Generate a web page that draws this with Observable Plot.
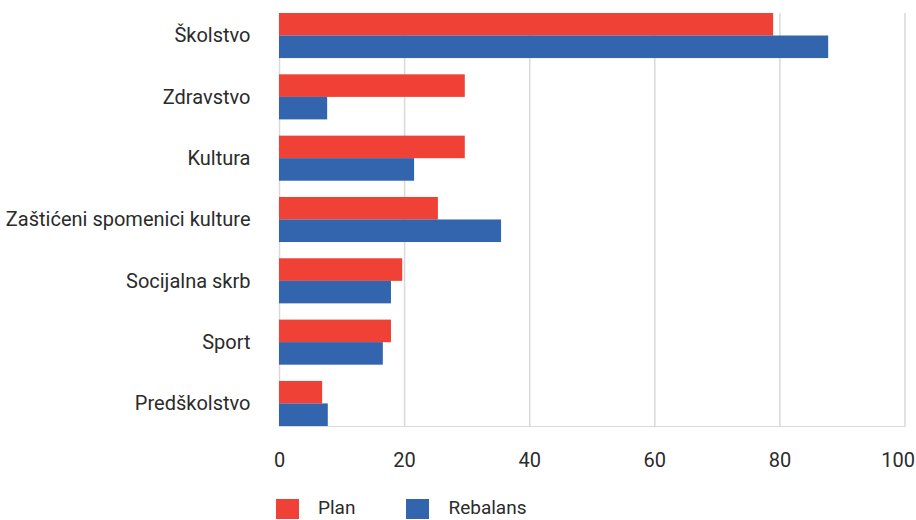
<!DOCTYPE html>
<html><head><meta charset="utf-8">
<script src="https://cdn.jsdelivr.net/npm/d3@7"></script>
<script src="https://cdn.jsdelivr.net/npm/@observablehq/plot@0.6"></script>
<style>
body{margin:0;background:#fff;font-family:Roboto,"Noto Sans",sans-serif;}
#chart svg{display:block;}
#chart svg text{fill:#2b2b2b;}
.legend{display:flex;align-items:center;margin-top:3px;margin-left:276px;font-size:19px;color:#2b2b2b;height:20px;line-height:19px;}
.legend .sw{width:23px;height:20px;display:inline-block;margin-right:19px;}
.legend .item{display:flex;align-items:center;margin-right:51px;height:20px;}
.legend .lbl{position:relative;top:-2px;}
</style></head><body>
<div id="chart"></div>
<div class="legend" id="legend"></div>
<script>
const categories = ["Školstvo","Zdravstvo","Kultura","Zaštićeni spomenici kulture","Socijalna skrb","Sport","Predškolstvo"];
const plan = [79.0, 29.7, 29.7, 25.4, 19.7, 17.9, 6.9];
const rebalans = [87.8, 7.7, 21.6, 35.5, 17.9, 16.6, 7.8];
const seriesNames = ["Plan","Rebalans"];
const seriesColors = ["#EF4136","#3364AE"];
const xTicks = [0,20,40,60,80,100];

const planData = categories.map((c,i)=>({category:c, value:plan[i]}));
const rebData = categories.map((c,i)=>({category:c, value:rebalans[i]}));

const bandHalf = 22.5;
const chart = Plot.plot({
  width: 916, height: 496,
  marginLeft: 279, marginRight: 11.5, marginTop: 13, marginBottom: 70,
  style: {fontSize: "20px", fontFamily: "Roboto, 'Noto Sans', sans-serif", color: "#d9d9d9", background: "#fff", overflow: "visible"},
  x: {domain: [0,100], ticks: xTicks, tickSize: 0, tickFormat: () => "", label: null, line: true},
  y: {domain: categories, paddingInner: 0.265, paddingOuter: 0, round: false, tickSize: 0, tickPadding: 29, label: null},
  marks: [
    Plot.ruleX(xTicks, {stroke: "#d9d9d9", strokeWidth: 1.5}),
    Plot.barX(planData, {y: "category", x: "value", fill: seriesColors[0], insetBottom: bandHalf}),
    Plot.barX(rebData, {y: "category", x: "value", fill: seriesColors[1], insetTop: bandHalf}),
    Plot.text(xTicks.slice(0, -1), {x: d => d, text: d => String(d), frameAnchor: "bottom", dy: 40, fill: "#2b2b2b", fontSize: 20}),
    Plot.text(xTicks.slice(-1), {x: d => d, text: d => String(d), frameAnchor: "bottom", dy: 40, dx: 10, textAnchor: "end", fill: "#2b2b2b", fontSize: 20})
  ]
});
document.getElementById("chart").appendChild(chart);

const legend = document.getElementById("legend");
seriesNames.forEach((n,i)=>{
  const item = document.createElement("div"); item.className="item";
  const sw = document.createElement("span"); sw.className="sw"; sw.style.background=seriesColors[i];
  const t = document.createElement("span"); t.className="lbl"; t.textContent=n;
  item.appendChild(sw); item.appendChild(t); legend.appendChild(item);
});
</script>
</body></html>
